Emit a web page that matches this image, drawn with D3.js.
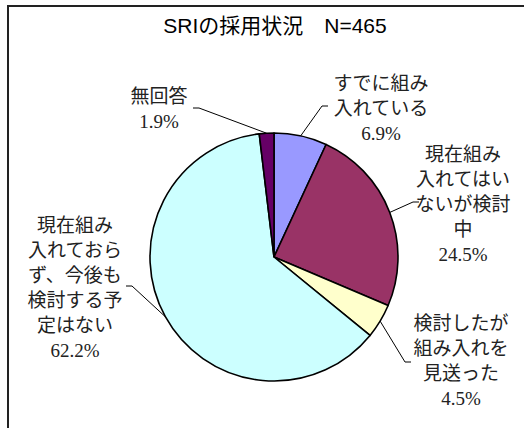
<!DOCTYPE html>
<html>
<head>
<meta charset="utf-8">
<script src="https://cdn.jsdelivr.net/npm/d3@7"></script>
<style>
  body { margin: 0; background: #fff; }
  svg { display: block; }
</style>
</head>
<body>
<div id="pieChart"></div>
<script>
// chart data
var categories = ["すでに組み入れている", "現在組み入れてはいないが検討中", "検討したが組み入れを見送った", "現在組み入れておらず、今後も検討する予定はない", "無回答"];
var values = [6.9, 24.5, 4.5, 62.2, 1.9];
var labelLines = [
    ["すでに組み", "入れている"],
    ["現在組み", "入れてはい", "ないが検討", "中"],
    ["検討したが", "組み入れを", "見送った"],
    ["現在組み", "入れておら", "ず、今後も", "検討する予", "定はない"],
    ["無回答"]
];
var colors = ["#9999FF", "#993366", "#FFFFCC", "#CCFFFF", "#660066"];
var title = "SRIの採用状況　N=465";

// layout
var width = 524, height = 428;
var cx = 274, cy = 257, radius = 124;
var lineH = 25;
// label centre x, first line y, leader knee point, side of knee (-1 left of label / +1 right)
var labelLayout = [
    {x: 381, y: 83, kx: 322, ky: 106, dir: 1},
    {x: 463, y: 154, kx: 413, ky: 202, dir: 1},
    {x: 461, y: 323, kx: 405, ky: 362, dir: 1},
    {x: 75, y: 225, kx: 132, ky: 286, dir: -1},
    {x: 159, y: 96, kx: 199, ky: 108, dir: -1}
];

var svg = d3.select("#pieChart")
    .append("svg")
    .attr("width", width)
    .attr("height", height);

// frame (runs off the right / bottom edge like the original)
svg.append("rect")
    .attr("x", 8)
    .attr("y", 6)
    .attr("width", width + 10)
    .attr("height", height + 10)
    .attr("fill", "none")
    .attr("stroke", "#222")
    .attr("stroke-width", 2);

svg.append("text")
    .attr("x", 275)
    .attr("y", 33)
    .attr("text-anchor", "middle")
    .style("font-family", "'Liberation Sans', 'Noto Sans CJK JP', sans-serif")
    .style("font-size", "21px")
    .text(title);

var pie = d3.pie().sort(null).value(function(d) { return d; });
var arcs = pie(values);

var arc = d3.arc().innerRadius(0).outerRadius(radius);

var g = svg.append("g")
    .attr("transform", "translate(" + cx + "," + cy + ")");

g.selectAll("path")
    .data(arcs)
    .enter()
    .append("path")
    .attr("d", arc)
    .attr("fill", function(d, i) { return colors[i]; })
    .attr("stroke", "#000")
    .attr("stroke-width", 1.6)
    .attr("stroke-linejoin", "round");

// leader lines
arcs.forEach(function(d, i) {
    var a = (d.startAngle + d.endAngle) / 2;
    var ex = cx + radius * Math.sin(a);
    var ey = cy - radius * Math.cos(a);
    var L = labelLayout[i];
    var tx = L.kx + L.dir * 6;
    svg.append("polyline")
        .attr("points", [[tx, L.ky], [L.kx, L.ky], [ex, ey]].map(function(p) { return p.join(","); }).join(" "))
        .attr("fill", "none")
        .attr("stroke", "#000")
        .attr("stroke-width", 1);
});

// labels
var labelFont = "'Liberation Serif', 'Noto Sans CJK JP', serif";
labelLines.forEach(function(lines, i) {
    var L = labelLayout[i];
    var t = svg.append("text")
        .attr("text-anchor", "middle")
        .style("font-family", labelFont)
        .style("font-size", "19px")
        .attr("fill", "#222");
    lines.concat([values[i].toFixed(1) + "%"]).forEach(function(s, j) {
        t.append("tspan")
            .attr("x", L.x)
            .attr("y", L.y + j * lineH)
            .attr("dy", "0.35em")
            .text(s);
    });
});
</script>
</body>
</html>
